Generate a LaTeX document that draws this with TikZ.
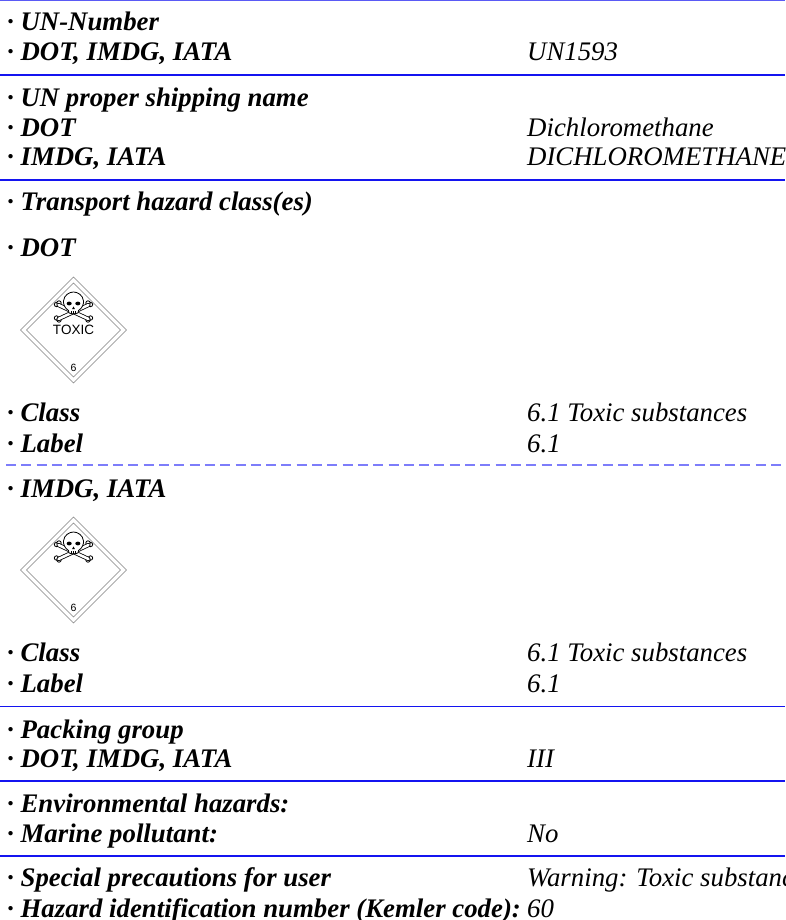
\documentclass[tikz,border=0pt]{standalone}
\usepackage{fontspec}
\setmainfont{Liberation Serif}
\setsansfont{Liberation Sans}
\definecolor{ruleblue}{RGB}{20,20,240}
\definecolor{topblue}{RGB}{90,90,245}
\definecolor{dashblue}{RGB}{125,125,250}
\tikzset{
  lab/.style={anchor=base west,inner sep=0pt,font=\fontsize{26.8}{26.8}\selectfont\bfseries\itshape},
  val/.style={anchor=base west,inner sep=0pt,font=\fontsize{26.8}{26.8}\selectfont\itshape},
  sep/.style={draw=ruleblue,line width=1.9pt},
  dsep/.style={draw=dashblue,line width=2pt,dash pattern=on 10pt off 5.3pt},
  dia/.style={draw=black!50,line width=.6pt,fill=white},
  skull/.style={draw=black,line width=.8pt,fill=white,line join=round},
  small/.style={inner sep=0pt},
}
\newcommand{\bone}[4]{%
  \draw[line width=4.2pt,line cap=round,black] (#1,#2) -- (#3,#4);
  \draw[line width=2.6pt,line cap=round,white] (#1,#2) -- (#3,#4);}
\newcommand{\placard}[3]{%
 \begin{scope}[shift={(#1,#2)}]
  \draw[dia] (0,-53) -- (53,0) -- (0,53) -- (-53,0) -- cycle;
  \draw[dia] (0,-47) -- (47,0) -- (0,47) -- (-47,0) -- cycle;
  % crossbones
  \foreach \sx in {-1,1}{
    \draw[skull] (\sx*17,-25.5) circle[radius=2.2];
    \draw[skull] (\sx*14.5,-27) circle[radius=2.2];
    \draw[skull] (\sx*17,-12) circle[radius=2.2];
    \draw[skull] (\sx*14.5,-10) circle[radius=2.2];
  }
  \bone{-15}{-25}{15}{-11}
  \bone{15}{-25}{-15}{-11}
  % skull
  \draw[skull] (-5,-19.5) .. controls (-9,-22) and (-10.2,-26) .. (-10,-29) .. controls (-9.5,-35) and (-4,-38) .. (0,-38) .. controls (4,-38) and (9.5,-35) .. (10,-29) .. controls (10.2,-26) and (9,-22) .. (5,-19.5) -- (4.5,-17) .. controls (2,-16) and (-2,-16) .. (-4.5,-17) -- cycle;
  \fill (-4.3,-26.5) circle[x radius=2.5,y radius=1.9];
  \fill (4.3,-26.5) circle[x radius=2.5,y radius=1.9];
  \fill (0,-23.5) -- (1.4,-21) -- (-1.4,-21) -- cycle;
  \draw[line width=.6pt] (-2,-19) -- (-2,-16.5) (0,-19) -- (0,-16.5) (2,-19) -- (2,-16.5);
  #3
  \node[small,font=\sffamily\fontsize{10.5}{10.5}\selectfont] at (0,37.5) {6};
 \end{scope}}
\begin{document}
\begin{tikzpicture}[x=1pt,y=-1pt]
\useasboundingbox (0,0) rectangle (785,920);
\begin{scope}
\clip (0,0) rectangle (785,920);
\fill[white] (0,0) rectangle (785,920);
\draw[draw=topblue,line width=1.2pt] (0,0.6) -- (785,0.6);
\coordinate (la) at (0,75); \coordinate (lb) at (785,75); \draw[sep] (la) -- (lb);
\coordinate (lc) at (0,180); \coordinate (ld) at (785,180); \draw[sep] (lc) -- (ld);
\coordinate (le) at (6,465); \coordinate (lf) at (785,465); \draw[dsep] (le) -- (lf);
\coordinate (lg) at (0,706.5); \coordinate (lh) at (785,706.5); \draw[sep] (lg) -- (lh);
\coordinate (li) at (0,781); \coordinate (lj) at (785,781); \draw[sep] (li) -- (lj);
\coordinate (lk) at (0,856); \coordinate (ll) at (785,856); \draw[sep] (lk) -- (ll);
\newcommand{\Lab}[3]{\node[lab] (#1) at (7,#2) {\textperiodcentered\ #3};}
\newcommand{\Val}[3]{\node[val] (#1) at (527,#2) {#3};}
\Lab{a1}{31}{UN-Number}
\Lab{a2}{61}{DOT, IMDG, IATA}\Val{v2}{61}{UN1593}
\Lab{a3}{107}{UN proper shipping name}
\Lab{a4}{136.5}{DOT}\Val{v4}{136.5}{Dichloromethane}
\Lab{a5}{166}{IMDG, IATA}\Val{v5}{166}{DICHLOROMETHANE}
\Lab{a6}{211}{Transport hazard class(es)}
\Lab{a7}{256}{DOT}
\placard{73.5}{330}{\node[small,font=\sffamily\fontsize{13.5}{13.5}\selectfont] (tox) at (0,0) {TOXIC};}
\Lab{a8}{421.7}{Class}\Val{v8}{421.7}{6.1 Toxic substances}
\Lab{a9}{452}{Label}\Val{v9}{452}{6.1}
\Lab{a10}{497}{IMDG, IATA}
\placard{73.5}{570}{}
\Lab{a11}{661.7}{Class}\Val{v11}{661.7}{6.1 Toxic substances}
\Lab{a12}{692.5}{Label}\Val{v12}{692.5}{6.1}
\Lab{a13}{738}{Packing group}
\Lab{a14}{767}{DOT, IMDG, IATA}\Val{v14}{767}{III}
\Lab{a15}{812.7}{Environmental hazards:}
\Lab{a16}{842}{Marine pollutant:}\Val{v16}{842}{No}
\Lab{a17}{886.7}{Special precautions for user}\Val{v17}{886.7}{Warning: Toxic substances}
\Lab{a18}{917}{Hazard identification number (Kemler code):}\Val{v18}{917}{60}
\end{scope}
\end{tikzpicture}
\end{document}
